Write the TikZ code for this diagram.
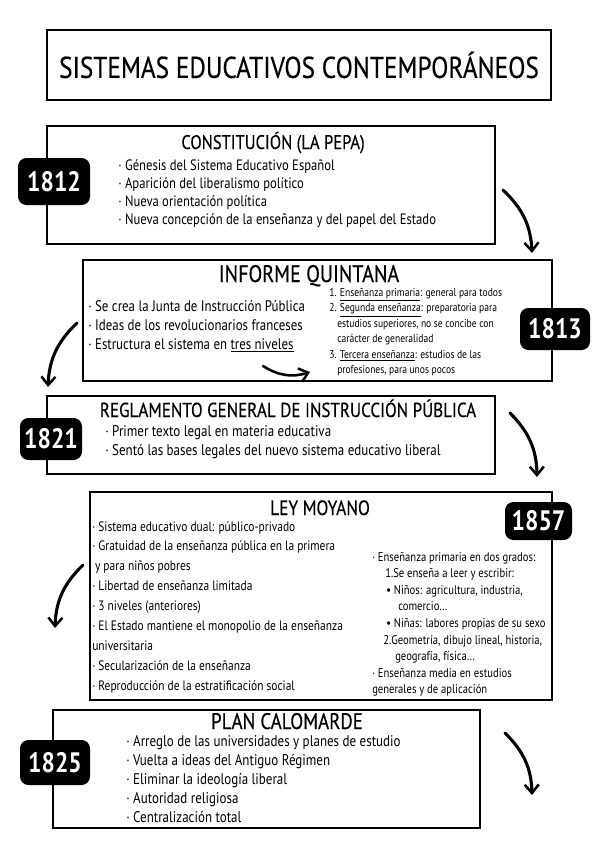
\documentclass[tikz,border=0pt]{standalone}
\usepackage{fontspec}
\setmainfont[FakeStretch=0.84]{PT Sans}
\newfontfamily\headfont[FakeStretch=0.84, FakeBold=0.35]{PT Sans}
\usetikzlibrary{arrows.meta,fit}

\begin{document}
\begin{tikzpicture}[
  x=0.025cm, y=-0.025cm,
  >={Straight Barb[length=6pt,width=10pt,line width=1.8pt]},
  panel/.style={draw, line width=1.9pt, inner sep=0pt, fill=white},
  year/.style={fill=black, rounded corners=6pt, inner sep=0pt},
  yeartext/.style={text=white, inner sep=0pt, font=\fontsize{20}{20}\selectfont\bfseries},
  heading/.style={anchor=base, inner sep=0pt, font=\headfont\fontsize{14}{14}\selectfont},
  item/.style={anchor=base west, inner sep=0pt, font=\fontsize{10.7}{11}\selectfont},
  note/.style={anchor=base west, inner sep=0pt, font=\fontsize{8.1}{9}\selectfont},
  arr/.style={->, line width=2.2pt, line cap=round},
]
\useasboundingbox (0,0) rectangle (600,848);

% title
\node[panel, fit={(47,30) (551,100)}] (main) {};
\node[font=\headfont\fontsize{21.4}{22}\selectfont] (maintext) at (main.center)
  {SISTEMAS EDUCATIVOS CONTEMPORÁNEOS};

% 1812
\node[panel, fit={(47,126) (495,244)}] (pepa) {};
\node[heading] (pepatitle) at (273,149) {CONSTITUCIÓN (LA PEPA)};
\foreach \t [count=\i] in {Génesis del Sistema Educativo Español,
    Aparición del liberalismo político, Nueva orientación política,
    Nueva concepción de la enseñanza y del papel del Estado}
  \node[item] (pepa\i) at (118,{170+18.3*(\i-1)}) {· \t};
\node[year, fit={(18,158) (90,205)}] (y1812) {};
\node[yeartext] (y1812text) at (y1812.center) {1812};

% 1813
\node[panel, fit={(83,260) (552,381)}] (quintana) {};
\node[heading, font=\headfont\fontsize{17}{17}\selectfont] (quintanatitle) at (309,282) {INFORME QUINTANA};
\foreach \t [count=\i] in {Se crea la Junta de Instrucción Pública,
    Ideas de los revolucionarios franceses,
    Estructura el sistema en \underline{tres niveles}}
  \node[item, font=\fontsize{10.9}{11}\selectfont] (quintana\i) at (88,{311+19*(\i-1)}) {· \t};
\node[note] (niv1) at (329,296) {1. \underline{Enseñanza primaria}: general para todos};
\node[note] (niv2) at (329,311.5) {2. \underline{Segunda enseñanza}: preparatoria para};
\node[note] (niv2b) at (337,327) {estudios superiores, no se concibe con};
\node[note] (niv2c) at (337,342.5) {carácter de generalidad};
\node[note] (niv3) at (329,358) {3. \underline{Tercera enseñanza}: estudios de las};
\node[note] (niv3b) at (337,373.5) {profesiones, para unos pocos};
\node[year, fit={(520,308) (590,350)}] (y1813) {};
\node[yeartext] (y1813text) at (y1813.center) {1813};

% 1821
\node[panel, fit={(47,396) (495,474)}] (reglamento) {};
\node[heading, font=\headfont\fontsize{14.4}{15}\selectfont] (reglamentotitle) at (288,417)
  {REGLAMENTO GENERAL DE INSTRUCCIÓN PÚBLICA};
\foreach \t [count=\i] in {Primer texto legal en materia educativa,
    Sentó las bases legales del nuevo sistema educativo liberal}
  \node[item, font=\fontsize{11}{11}\selectfont] (reglamento\i) at (105,{436+19*(\i-1)}) {· \t};
\node[year, fit={(20,418) (82,460)}] (y1821) {};
\node[yeartext] (y1821text) at (y1821.center) {1821};

% 1857
\node[panel, fit={(90,492) (552,700)}] (moyano) {};
\node[heading, font=\headfont\fontsize{14.7}{15}\selectfont] (moyanotitle) at (320,515) {LEY MOYANO};
\foreach \t [count=\i] in {· Sistema educativo dual: público-privado,
    · Gratuidad de la enseñanza pública en la primera,
    {\hspace*{2pt}y para niños pobres},
    · Libertad de enseñanza limitada,
    · 3 niveles (anteriores),
    · El Estado mantiene el monopolio de la enseñanza,
    universitaria,
    · Secularización de la enseñanza,
    · Reproducción de la estratificación social}
  \node[item, font=\fontsize{9.7}{10}\selectfont] (moyano\i) at (92,{531+19.9*(\i-1)}) {\t};
\foreach \t/\x [count=\i] in {{· Enseñanza primaria en dos grados:}/372,
    {1.Se enseña a leer y escribir:}/385,
    {• Niños: agricultura, industria,}/386,
    {comercio\ldots}/398,
    {• Niñas: labores propias de su sexo}/386,
    {2.Geometría, dibujo lineal, historia,}/383,
    {geografía, física\ldots}/395,
    {· Enseñanza media en estudios}/372,
    {generales y de aplicación}/372}
  \node[note, font=\fontsize{9}{9}\selectfont] (grado\i) at (\x,{561+16.6*(\i-1)}) {\t};
\node[year, fit={(505,502) (572,540)}] (y1857) {};
\node[yeartext] (y1857text) at (y1857.center) {1857};

% 1825
\node[panel, fit={(53,710) (480,828)}] (calomarde) {};
\node[heading, font=\headfont\fontsize{16}{16}\selectfont] (calomardetitle) at (287,729) {PLAN CALOMARDE};
\foreach \t [count=\i] in {Arreglo de las universidades y planes de estudio,
    Vuelta a ideas del Antiguo Régimen, Eliminar la ideología liberal,
    Autoridad religiosa, Centralización total}
  \node[item, font=\fontsize{11}{11}\selectfont] (calomarde\i) at (126,{746+19.2*(\i-1)}) {· \t};
\node[year, fit={(20,740) (90,785)}] (y1825) {};
\node[yeartext] (y1825text) at (y1825.center) {1825};

% arrows
\coordinate (a1) at (503,190); \coordinate (b1) at (532,253);
\coordinate (a2) at (77,323);  \coordinate (b2) at (48,387);
\coordinate (a3) at (510,413); \coordinate (b3) at (537,477);
\coordinate (a4) at (83,565);  \coordinate (b4) at (55,628);
\coordinate (a5) at (505,733); \coordinate (b5) at (532,795);
\coordinate (a6) at (263,366); \coordinate (b6) at (310,372);
\draw[arr] (a1) to[bend left=22] (b1);
\draw[arr] (a2) to[bend right=22] (b2);
\draw[arr] (a3) to[bend left=22] (b3);
\draw[arr] (a4) to[bend right=22] (b4);
\draw[arr] (a5) to[bend left=22] (b5);
\draw[arr, line width=1.8pt] (a6) to[bend right=25] (b6);

\end{tikzpicture}
\end{document}
